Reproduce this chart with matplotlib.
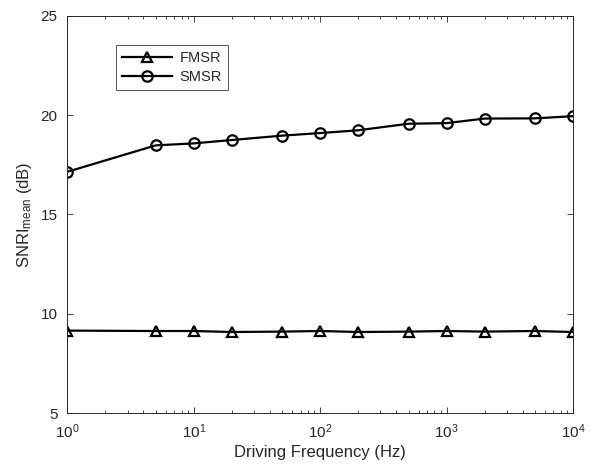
import matplotlib
matplotlib.use("Agg")
import matplotlib.pyplot as plt

freq = [1, 5, 10, 20, 50, 100, 200, 500, 1000, 2000, 5000, 10000]
fmsr = [9.15, 9.13, 9.13, 9.08, 9.10, 9.13, 9.08, 9.10, 9.13, 9.10, 9.13, 9.08]
smsr = [17.15, 18.48, 18.58, 18.75, 18.97, 19.10, 19.24, 19.57, 19.60, 19.83, 19.84, 19.95]
series_labels = ["FMSR", "SMSR"]
xlabel = "Driving Frequency (Hz)"
ylabel = "SNRI$_{\\mathrm{mean}}$ (dB)"
yticks = [5, 10, 15, 20, 25]

plt.rcParams['font.family'] = ['Liberation Sans', 'DejaVu Sans']
plt.rcParams['mathtext.fontset'] = 'custom'
plt.rcParams['mathtext.rm'] = 'Liberation Sans'
plt.rcParams['mathtext.it'] = 'Liberation Sans:italic'
plt.rcParams['mathtext.default'] = 'regular'

gray = '#262626'
fig = plt.figure(figsize=(5.91, 4.68), dpi=100)
ax = fig.add_axes([0.114, 0.1175, 0.8555, 0.8485])

ax.plot(freq, fmsr, color='black', lw=1.6, marker='^', ms=7.5, mfc='none', mew=1.6, label=series_labels[0])
ax.plot(freq, smsr, color='black', lw=1.6, marker='o', ms=7.5, mfc='none', mew=1.6, label=series_labels[1])

ax.set_xscale('log')
ax.set_xlim(1, 1e4)
ax.set_ylim(5, 25)
ax.set_yticks(yticks)
ax.set_xlabel(xlabel, fontsize=12, color=gray, labelpad=3)
ax.set_ylabel(ylabel, fontsize=12, color=gray, labelpad=5)

for s in ax.spines.values():
    s.set_color(gray)
    s.set_linewidth(0.7)
ax.tick_params(which='both', direction='in', top=True, right=True, colors=gray, labelsize=11, width=0.6)
ax.tick_params(which='major', length=4.5)
ax.tick_params(which='minor', length=2.5)
ax.tick_params(axis='x', which='both', pad=7)
ax.tick_params(axis='y', which='both', pad=7)

leg = ax.legend(loc='upper left', bbox_to_anchor=(0.096, 0.927), frameon=True, fancybox=False,
                edgecolor=gray, fontsize=10.5, borderaxespad=0, handlelength=3.4, labelspacing=0.3,
                borderpad=0.45, handletextpad=0.5)
leg.get_frame().set_linewidth(0.7)
for t in leg.get_texts():
    t.set_color(gray)

fig.savefig('out.png', dpi=100)
